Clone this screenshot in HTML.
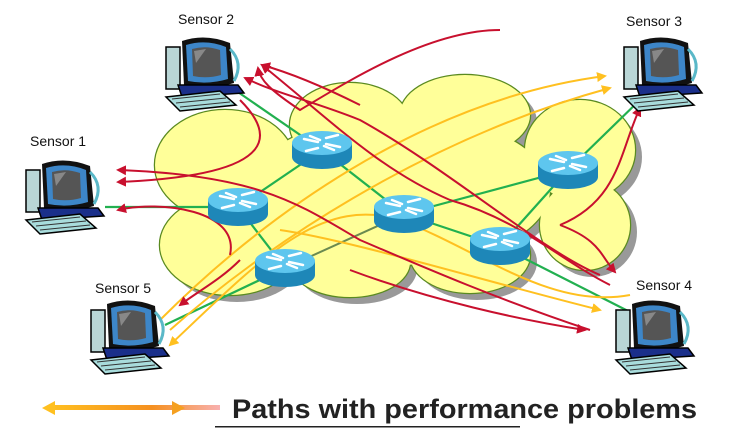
<!DOCTYPE html>
<html><head><meta charset="utf-8"><style>
html,body{margin:0;padding:0;background:#fff;}
svg{display:block;}
text{font-family:"Liberation Sans",sans-serif;}
</style></head><body>
<svg width="732" height="430" viewBox="0 0 732 430" xmlns="http://www.w3.org/2000/svg">
<defs>
<g id="pc">
  <rect x="6" y="12" width="14" height="42" fill="#b9d6d6" stroke="#000" stroke-width="1.5"/>
  <path d="M22 6 Q45 -2 70 8 L74 48 Q48 56 24 50 Z" fill="#111"/>
  <path d="M26 10 Q46 4 66 12 L68 44 Q48 50 28 46 Z" fill="#3d86c8"/>
  <path d="M32 14 Q46 10 60 15 L61 40 Q47 44 33 41 Z" fill="#555"/>
  <path d="M34 16 L46 14 L36 28 Z" fill="#888"/>
  <path d="M70 14 Q84 28 74 46" fill="none" stroke="#5ab8c8" stroke-width="3"/>
  <path d="M18 50 L78 50 L84 58 L22 62 Z" fill="#1a2f8a" stroke="#000" stroke-width="1.5"/>
  <path d="M6 62 L60 56 L76 70 L20 76 Z" fill="#a8dcdc" stroke="#000" stroke-width="1.5"/>
  <path d="M12 64 L60 59 M16 68 L66 63 M20 72 L70 67" stroke="#333" stroke-width="1"/>
</g>
<g id="rt">
  <path d="M-30 0 L-30 14 A30 12 0 0 0 30 14 L30 0 Z" fill="#1e87b8"/>
  <ellipse cx="0" cy="0" rx="30" ry="12" fill="#5ec6ee"/>
  <path d="M-18 -4 L-4 -1 M-12 -7 L-2 -3 M18 4 L4 1 M12 7 L2 3 M4 -5 L16 -8 M-4 5 L-16 8" stroke="#fff" stroke-width="2.5" stroke-linecap="round"/>
</g>
<g id="cl">
  <ellipse cx="225" cy="165" rx="70" ry="55"/><ellipse cx="350" cy="125" rx="60" ry="42"/><ellipse cx="465" cy="115" rx="65" ry="40"/>
  <ellipse cx="580" cy="150" rx="55" ry="50"/><ellipse cx="585" cy="225" rx="45" ry="45"/><ellipse cx="470" cy="255" rx="60" ry="38"/>
  <ellipse cx="350" cy="262" rx="60" ry="35"/><ellipse cx="230" cy="245" rx="70" ry="50"/><ellipse cx="400" cy="190" rx="150" ry="75"/>
</g>
<marker id="ar" markerWidth="10" markerHeight="10" refX="8" refY="5" orient="auto" markerUnits="userSpaceOnUse"><path d="M0 0 L10 5 L0 10 Z" fill="#c8102e"/></marker>
<marker id="ay" markerWidth="10" markerHeight="10" refX="8" refY="5" orient="auto" markerUnits="userSpaceOnUse"><path d="M0 0 L10 5 L0 10 Z" fill="#ffc020"/></marker>
<linearGradient id="lg" x1="0" x2="1"><stop offset="0" stop-color="#ffc020"/><stop offset="0.6" stop-color="#f59020"/><stop offset="1" stop-color="#f8b0b0"/></linearGradient>
</defs>

<use href="#cl" fill="#999" x="7" y="7"/>
<use href="#cl" fill="#ffff99" stroke="#5a8a20" stroke-width="2.5"/>
<use href="#cl" fill="#ffff99"/>

<g stroke="#22b050" stroke-width="2.2" fill="none">
  <path d="M235 90 L322 150"/><path d="M105 207 L238 207"/><path d="M322 150 L238 207"/>
  <path d="M238 207 L285 268"/><path d="M322 150 L404 214"/><path d="M404 214 L500 246"/>
  <path d="M404 214 L568 170"/><path d="M500 246 L568 170"/><path d="M568 170 L645 95"/>
  <path d="M500 246 L630 312"/><path d="M285 268 L165 325"/>
</g>
<path d="M285 268 L404 214" stroke="#6a8a50" stroke-width="2" fill="none"/>

<g stroke="#ffc020" stroke-width="2" fill="none" marker-end="url(#ay)">
  <path d="M170 330 C260 250 420 140 610 88"/>
  <path d="M160 320 C260 220 420 100 605 76"/>
  <path d="M630 295 C550 310 480 250 400 220 C320 195 260 260 170 345"/>
  <path d="M280 230 C350 240 480 280 600 310"/>
</g>

<g stroke="#c8102e" stroke-width="2" fill="none" marker-end="url(#ar)">
  <path d="M360 105 C310 80 280 70 262 65"/>
  <path d="M500 30 C430 30 350 80 300 110 C270 90 260 80 258 68"/>
  <path d="M610 285 C560 260 520 220 450 200 C380 170 330 120 262 65"/>
  <path d="M600 275 C540 250 450 170 360 120 C310 100 280 95 245 78"/>
  <path d="M590 330 C500 300 430 270 360 240 C300 205 260 175 118 170"/>
  <path d="M240 100 C270 130 290 175 118 182"/>
  <path d="M560 225 C620 200 620 150 640 108"/>
  <path d="M560 225 C600 240 600 255 615 272"/>
  <path d="M230 255 C240 210 160 200 118 210"/>
  <path d="M240 260 C220 280 200 290 180 305"/>
  <path d="M350 270 C430 300 520 320 585 330"/>
</g>

<use href="#rt" x="322" y="143"/>
<use href="#rt" x="238" y="200"/>
<use href="#rt" x="404" y="207"/>
<use href="#rt" x="568" y="163"/>
<use href="#rt" x="500" y="239"/>
<use href="#rt" x="285" y="261"/>

<use href="#pc" x="160" y="35"/>
<use href="#pc" x="20" y="158"/>
<use href="#pc" x="618" y="35"/>
<use href="#pc" x="85" y="298"/>
<use href="#pc" x="610" y="298"/>

<g font-size="14" fill="#111">
  <text x="178" y="24">Sensor 2</text>
  <text x="30" y="146">Sensor 1</text>
  <text x="626" y="26">Sensor 3</text>
  <text x="95" y="293">Sensor 5</text>
  <text x="636" y="290">Sensor 4</text>
</g>

<rect x="50" y="405" width="170" height="5" fill="url(#lg)"/>
<path d="M42 408 L55 401 L55 415 Z" fill="#ffc020"/>
<path d="M185 408 L172 401 L172 415 Z" fill="#f5a020"/>
<text x="232" y="418" font-size="27" font-weight="bold" fill="#222" textLength="465" lengthAdjust="spacingAndGlyphs">Paths with performance problems</text>
<rect x="215" y="426" width="305" height="1.5" fill="#222"/>
</svg>
</body></html>
